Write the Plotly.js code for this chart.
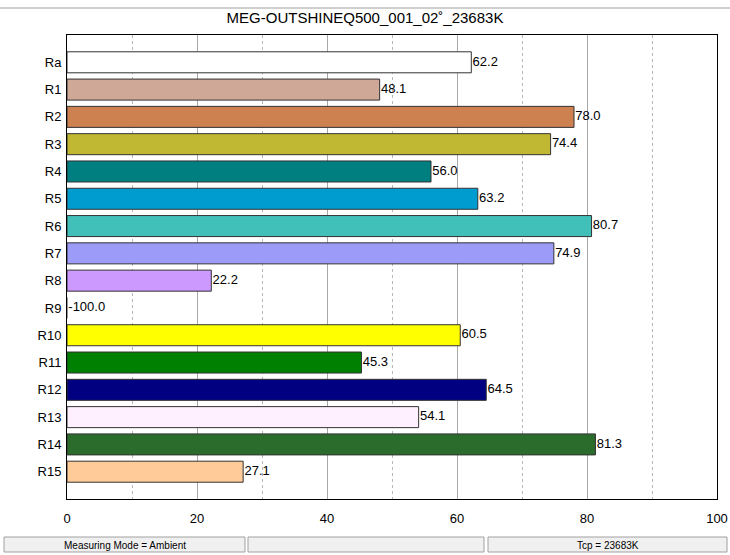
<!DOCTYPE html>
<html>
<head>
<meta charset="utf-8">
<script src="https://cdn.plot.ly/plotly-3.0.1.min.js"></script>
<style>html,body{margin:0;padding:0;background:#fff;}#chart{width:730px;height:555px;}</style>
</head>
<body>
<div id="chart"></div>
<script>
const categories = ["Ra","R1","R2","R3","R4","R5","R6","R7","R8","R9","R10","R11","R12","R13","R14","R15"];
const values = [62.2,48.1,78.0,74.4,56.0,63.2,80.7,74.9,22.2,-100.0,60.5,45.3,64.5,54.1,81.3,27.1];
const barColors = ["#FFFFFF","#CFA898","#CD8050","#C0B832","#007F80","#009CD0","#40C0B8","#9C9CF8","#CC99FF","#FFFFFF","#FFFF00","#008000","#000080","#FFF0FF","#2B6B2B","#FFCC99"];
const xTicks = [0,20,40,60,80,100];
const titleText = "MEG-OUTSHINEQ500_001_02\u02da_23683K";
const statusTexts = ["Measuring Mode = Ambient","","Tcp = 23683K"];

const idx = categories.map((c,i)=>i);
const bars = {
  type:'bar', orientation:'h',
  x: values, y: idx,
  width: 0.77,
  marker:{color:barColors, line:{color:'#333333', width:1}},
  hoverinfo:'none'
};
const labels = {
  type:'scatter', mode:'text',
  x: values.map(v=>Math.max(v,0)+0.2), y: idx,
  text: values.map(v=>v.toFixed(1)),
  textposition:'middle right',
  textfont:{family:'Liberation Sans, Arial, sans-serif', size:13, color:'#000'},
  cliponaxis:false, hoverinfo:'none'
};

const L=67, R=717, T=35, B=499;
const px = x => (x-L)/(R-L);
const py = y => (B-y)/(B-T);
const panels = [[4,245],[248,484],[488,727]];
const shapes = [
  {type:'line', xref:'paper', yref:'paper', x0:px(0), x1:px(730), y0:py(8), y1:py(8), line:{color:'#A0A0A0', width:1}}
];
const annotations = [];
panels.forEach((p,i)=>{
  shapes.push({type:'rect', xref:'paper', yref:'paper', x0:px(p[0]), x1:px(p[1]), y0:py(537), y1:py(552), fillcolor:'#F0F0F0', line:{color:'#A0A0A0', width:1}});
  if(statusTexts[i]) annotations.push({xref:'paper', yref:'paper', x:(px(p[0])+px(p[1]))/2, y:py(545), text:statusTexts[i], showarrow:false, xanchor:'center', yanchor:'middle', font:{family:'Liberation Sans Narrow, Liberation Sans, Arial, sans-serif', size:10, color:'#000'}});
});

const layout = {
  width:730, height:555,
  margin:{l:L, r:730-R, t:T, b:555-B},
  paper_bgcolor:'#fff', plot_bgcolor:'#fff',
  showlegend:false,
  title:{text:titleText, x:0.5, xref:'container', y:1-18/555, yref:'container', yanchor:'middle', font:{family:'Liberation Sans Narrow, Liberation Sans, Arial, sans-serif', size:15, color:'#000'}},
  xaxis:{range:[0,100], tickvals:xTicks, ticktext:xTicks.map(String), showgrid:true, gridcolor:'#A8A8A8', gridwidth:1,
    minor:{dtick:10, tick0:0, showgrid:true, gridcolor:'#B8B8B8', griddash:'dot', gridwidth:1},
    showline:true, linecolor:'#000', linewidth:1, mirror:true, zeroline:false, ticks:'', ticklen:0, ticklabelstandoff:7,
    tickfont:{family:'Liberation Sans, Arial, sans-serif', size:13, color:'#000'}, fixedrange:true},
  yaxis:{range:[16,-1], tickvals:idx, ticktext:categories, showgrid:false, showline:true, linecolor:'#000', linewidth:1, mirror:true, zeroline:false, ticks:'', ticklabelstandoff:2,
    tickfont:{family:'Liberation Sans, Arial, sans-serif', size:13, color:'#000'}, fixedrange:true},
  shapes:shapes, annotations:annotations
};
Plotly.newPlot('chart',[bars,labels],layout,{staticPlot:true});
</script>
</body>
</html>
